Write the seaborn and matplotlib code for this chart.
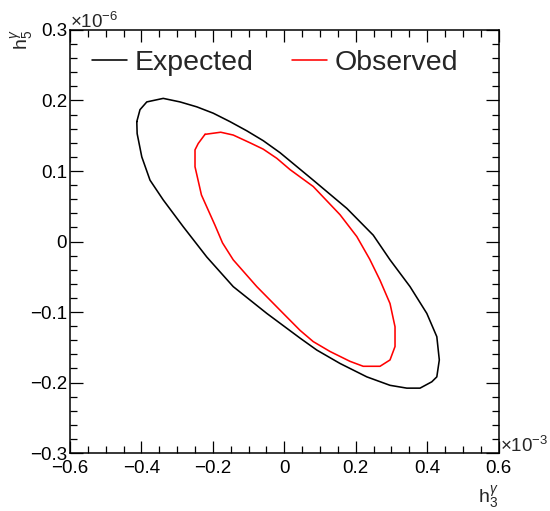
import numpy as np
import pandas as pd
import matplotlib
matplotlib.use("Agg")
import matplotlib.pyplot as plt
from matplotlib.ticker import MultipleLocator, FuncFormatter
import seaborn as sns

# 95% CL contours: h3 in units of 1e-3, h5 in units of 1e-6
expected_h3 = [-0.413, -0.404, -0.385, -0.339, -0.292, -0.245, -0.199, -0.152, -0.105,
               -0.059, -0.012, 0.081, 0.175, 0.249, 0.296, 0.352, 0.399, 0.427,
               0.434, 0.427, 0.413, 0.380, 0.343, 0.296, 0.231, 0.156, 0.091,
               0.044, -0.049, -0.143, -0.217, -0.283, -0.339, -0.376, -0.399, -0.412]
expected_h5 = [0.170, 0.187, 0.198, 0.203, 0.198, 0.191, 0.182, 0.170, 0.157,
               0.143, 0.126, 0.087, 0.047, 0.009, -0.026, -0.064, -0.102, -0.135,
               -0.168, -0.192, -0.199, -0.208, -0.208, -0.204, -0.192, -0.173, -0.154,
               -0.137, -0.102, -0.064, -0.022, 0.021, 0.059, 0.087, 0.120, 0.153]

observed_h3 = [-0.222, -0.178, -0.143, -0.096, -0.059, -0.021, 0.016, 0.081, 0.156,
               0.203, 0.239, 0.268, 0.296, 0.310, 0.310, 0.296, 0.268, 0.221,
               0.184, 0.128, 0.081, 0.044, -0.003, -0.077, -0.143, -0.173, -0.194,
               -0.217, -0.232, -0.250, -0.250, -0.241]
observed_h5 = [0.152, 0.155, 0.151, 0.140, 0.131, 0.118, 0.102, 0.078, 0.038,
               0.007, -0.025, -0.055, -0.088, -0.121, -0.149, -0.168, -0.177, -0.177,
               -0.170, -0.156, -0.142, -0.126, -0.102, -0.064, -0.026, -0.002, 0.023,
               0.049, 0.066, 0.106, 0.130, 0.139]

series_names = ["Expected", "Observed"]
series_colors = ["black", "#ff0000"]

sns.set_theme(style="ticks")
plt.rcParams["font.family"] = ["Liberation Sans", "DejaVu Sans"]
plt.rcParams["mathtext.fontset"] = "custom"
plt.rcParams["mathtext.rm"] = "Liberation Sans"
plt.rcParams["mathtext.it"] = "Liberation Sans:italic"

W, H = 550, 511
fig = plt.figure(figsize=(W / 100, H / 100), dpi=100)
ax = fig.add_axes([70 / W, 1 - 453 / H, 428.6 / W, 423 / H])


def closed(xs, ys):
    return pd.DataFrame({"h3": list(xs) + [xs[0]], "h5": list(ys) + [ys[0]]})


for name, color, xs, ys in [
    (series_names[0], series_colors[0], expected_h3, expected_h5),
    (series_names[1], series_colors[1], observed_h3, observed_h5),
]:
    sns.lineplot(data=closed(xs, ys), x="h3", y="h5", sort=False, estimator=None,
                 color=color, linewidth=1.15, label=name, ax=ax)

ax.set_xlim(-0.6, 0.6)
ax.set_ylim(-0.3, 0.3)

ax.xaxis.set_major_locator(MultipleLocator(0.2))
ax.xaxis.set_minor_locator(MultipleLocator(0.05))
ax.yaxis.set_major_locator(MultipleLocator(0.1))
ax.yaxis.set_minor_locator(MultipleLocator(0.02))


def fmt(v, _):
    if abs(v) < 1e-9:
        return "0"
    return f"{v:.1f}".replace("-", "\u2212")


ax.xaxis.set_major_formatter(FuncFormatter(fmt))
ax.yaxis.set_major_formatter(FuncFormatter(fmt))

ax.tick_params(which="both", direction="in", top=True, right=True,
               labelsize=13.5, colors="black", width=0.9)
ax.tick_params(axis="x", which="major", length=8.9, pad=5)
ax.tick_params(axis="x", which="minor", length=4.8)
ax.tick_params(axis="y", which="major", length=9.4, pad=2)
ax.tick_params(axis="y", which="minor", length=5.0)

for sp in ax.spines.values():
    sp.set_visible(True)
    sp.set_color("black")
    sp.set_linewidth(1.1)

ax.set_xlabel("")
ax.set_ylabel("")

# Axis titles and exponent markers
fig.text(488 / W, 1 - 497 / H, r"h$_{3}^{\gamma}$", ha="center", va="center",
         fontsize=14)
fig.text(22 / W, 1 - 40 / H, r"h$_{5}^{\gamma}$", ha="center", va="center",
         fontsize=14, rotation=90)
fig.text(70 / W, 1 - 28 / H, r"$\times$10$^{-6}$", ha="left", va="baseline",
         fontsize=13.5)
fig.text(500 / W, 1 - 452 / H, r"$\times$10$^{-3}$", ha="left", va="baseline",
         fontsize=13.5)

ax.legend(loc="upper left", bbox_to_anchor=(0.025, 0.979), ncol=2,
          frameon=False, fontsize=20.5, handlelength=1.23,
          handletextpad=0.28, columnspacing=1.33, borderaxespad=0)

fig.savefig("out.png", dpi=100, facecolor="white")
